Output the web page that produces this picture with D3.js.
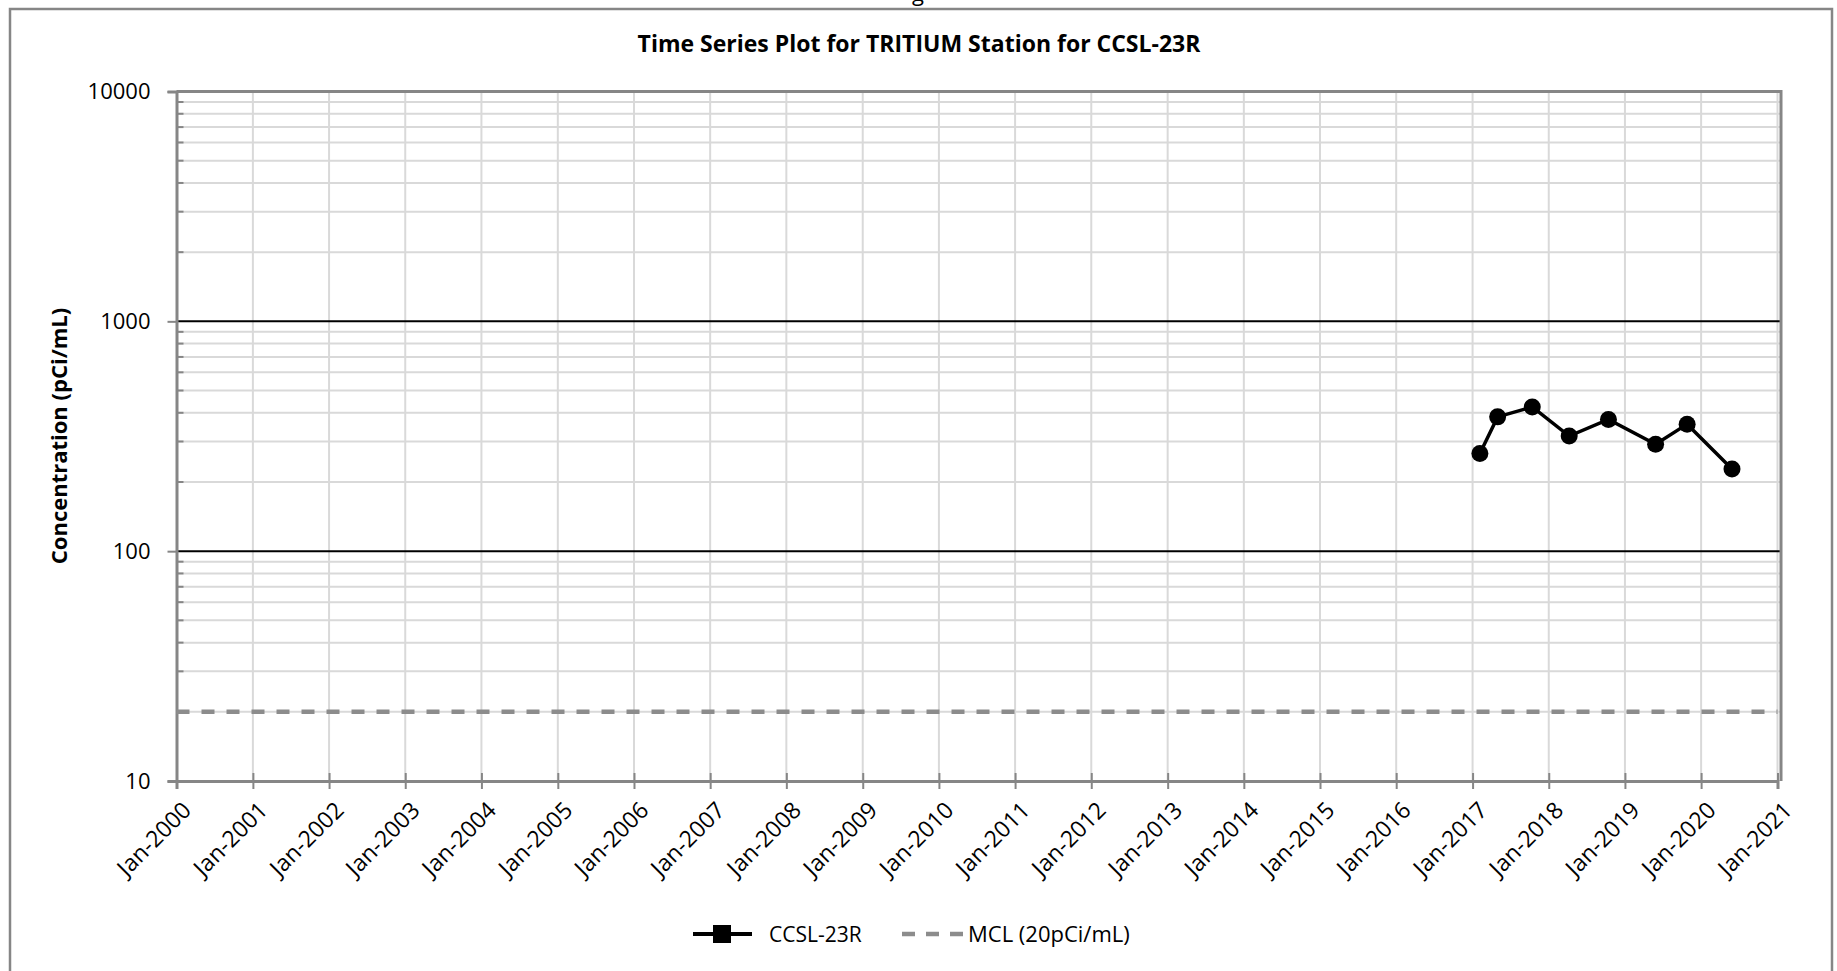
<!DOCTYPE html>
<html><head><meta charset="utf-8">
<script src="https://cdn.jsdelivr.net/npm/d3@7"></script>
<style>body{margin:0;background:#fff}svg{display:block}text{font-family:"Open Sans",sans-serif}</style>
</head><body><svg id="c" width="1837" height="971"></svg>
<script>
const title = "Time Series Plot for TRITIUM Station for CCSL-23R";
const yTitle = "Concentration (pCi/mL)";
const seriesName = "CCSL-23R";
const mclName = "MCL (20pCi/mL)";
const sampleDates = ["2017-02-05","2017-05-01","2017-10-14","2018-04-09","2018-10-14","2019-05-28","2019-10-26","2020-05-28"];
const sampleValues = [266, 384, 424, 317, 374, 292, 357, 228];
const mclValue = 20;
const yTickValues = [10, 100, 1000, 10000];
const xTickYears = d3.range(2000, 2022);

const svg = d3.select("#c");
const L = 176.5, R = 1777.5, T = 91.5, B = 781;
const parse = d3.timeParse("%Y-%m-%d");
const x = d3.scaleTime().domain([new Date(2000,0,1), new Date(2021,0,1)]).range([L, R]);
const y = d3.scaleLog().domain([10, 10000]).range([B, T]);
const axisCol = "#868686", gridCol = "#d9d9d9";

// outer frame
svg.append("path").attr("d", `M10,971 V9 H1832 V971`).attr("fill","none").attr("stroke",axisCol).attr("stroke-width",2.5);
// partially visible heading letter above the frame
svg.append("text").attr("x",918).attr("y",1).attr("font-size",22).attr("font-family","Liberation Serif").attr("text-anchor","middle").text("g");

// minor horizontal grid
const minor = [];
[10,100,1000].forEach(d => { for (let k=2;k<=9;k++) minor.push(d*k); });
svg.append("g").selectAll("line").data(minor).join("line")
  .attr("x1",L).attr("x2",1781).attr("y1",d=>y(d)).attr("y2",d=>y(d))
  .attr("stroke",gridCol).attr("stroke-width",2);
// vertical grid
const xTicks = xTickYears.map(yr => new Date(yr,0,1));
svg.append("g").selectAll("line").data(xTicks.slice(1)).join("line")
  .attr("x1",d=>x(d)).attr("x2",d=>x(d)).attr("y1",T).attr("y2",B)
  .attr("stroke",gridCol).attr("stroke-width",2);
// major horizontal lines
svg.append("g").selectAll("line").data([100,1000]).join("line")
  .attr("x1",L).attr("x2",1781).attr("y1",d=>y(d)).attr("y2",d=>y(d))
  .attr("stroke","#000").attr("stroke-width",2);

// plot border top & right
svg.append("path").attr("d",`M${L},${T} H1781 V${B}`).attr("fill","none").attr("stroke",axisCol).attr("stroke-width",3);

// y axis
const yAxis = d3.axisLeft(y).tickValues(yTickValues).tickFormat(d3.format("d")).tickSize(9).tickPadding(17);
const gy = svg.append("g").attr("transform",`translate(${L},0)`).call(yAxis);
gy.select(".domain").attr("stroke",axisCol).attr("stroke-width",3);
gy.selectAll(".tick line").attr("stroke",axisCol).attr("stroke-width",2);
gy.selectAll(".tick text").attr("font-size",22).attr("fill","#000").attr("font-family","Open Sans");
// minor inner ticks
svg.append("g").selectAll("line").data(minor).join("line")
  .attr("x1",L).attr("x2",L+7).attr("y1",d=>y(d)).attr("y2",d=>y(d))
  .attr("stroke",axisCol).attr("stroke-width",2);

// x axis
const xAxis = d3.axisBottom(x).tickValues(xTicks).tickFormat(d3.timeFormat("Jan-%Y")).tickSize(8).tickPadding(0);
const gx = svg.append("g").attr("transform",`translate(0,${B})`).call(xAxis);
gx.select(".domain").attr("stroke",axisCol).attr("stroke-width",3);
gx.selectAll(".tick line").attr("stroke",axisCol).attr("stroke-width",2).attr("y1",-8).attr("y2",8);
gx.selectAll(".tick text").attr("font-size",23).attr("fill","#000").attr("font-family","Open Sans")
  .attr("text-anchor","end").attr("dy",0).attr("transform","translate(10,25) rotate(-45)");

// MCL line
svg.append("line").attr("x1",L).attr("x2",R).attr("y1",y(mclValue)).attr("y2",y(mclValue))
  .attr("stroke","#8c8c8c").attr("stroke-width",4.5).attr("stroke-dasharray","13,12");

// series
const data = sampleDates.map((d,i)=>({date:parse(d), v:sampleValues[i]}));
svg.append("path").datum(data).attr("fill","none").attr("stroke","#000").attr("stroke-width",3.5)
  .attr("d", d3.line().x(d=>x(d.date)).y(d=>y(d.v)));
svg.append("g").selectAll("circle").data(data).join("circle")
  .attr("cx",d=>x(d.date)).attr("cy",d=>y(d.v)).attr("r",8.5).attr("fill","#000");

// titles
svg.append("text").attr("x",919).attr("y",52).attr("text-anchor","middle").attr("font-size",23).attr("font-weight","bold").text(title);
svg.append("text").attr("transform","translate(67,436) rotate(-90)").attr("text-anchor","middle").attr("font-size",22).attr("font-weight","bold").text(yTitle);

// legend
const ly = 934;
const lg = svg.append("g");
lg.append("line").attr("x1",693).attr("x2",752).attr("y1",ly).attr("y2",ly).attr("stroke","#000").attr("stroke-width",4);
lg.append("rect").attr("x",713).attr("y",ly-9).attr("width",18).attr("height",18).attr("fill","#000");
lg.append("text").attr("x",769).attr("y",ly+8).attr("font-size",21).text(seriesName);
lg.append("line").attr("x1",902).attr("x2",963).attr("y1",ly).attr("y2",ly).attr("stroke","#8c8c8c").attr("stroke-width",4.5).attr("stroke-dasharray","13,11");
lg.append("text").attr("x",968).attr("y",ly+8).attr("font-size",22).text(mclName);
</script></body></html>
